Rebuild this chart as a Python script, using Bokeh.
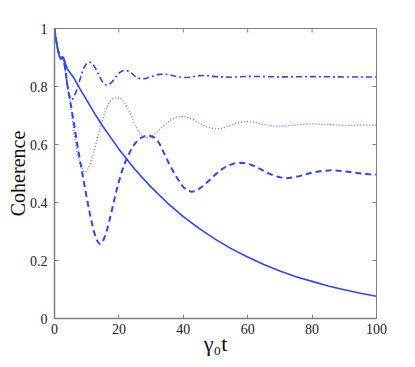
from bokeh.plotting import figure
from bokeh.models import LinearAxis, FixedTicker, Range1d
from bokeh.embed import file_html
from bokeh.resources import INLINE

# ---- data ----
t_solid = [0, 0.5, 1, 1.5, 2, 2.5, 3, 3.5, 4, 5, 6, 8, 10, 12, 15, 20, 25, 30, 35, 40,
           45, 50, 55, 60, 65, 70, 75, 80, 85, 90, 95, 100]
y_solid = [1.0, 0.96, 0.93, 0.905, 0.895, 0.902, 0.895, 0.875, 0.86, 0.845, 0.83, 0.79,
           0.753, 0.715, 0.663, 0.584, 0.514, 0.453, 0.399, 0.351, 0.310, 0.273, 0.240,
           0.212, 0.186, 0.164, 0.144, 0.128, 0.112, 0.099, 0.087, 0.077]

t_dashdot = [0, 0.5, 1, 1.5, 2, 2.5, 3, 3.5, 4, 4.5, 5, 5.5, 6, 7, 8, 9, 10, 11, 12, 13,
             14, 15, 16, 17, 18, 19, 20, 21, 22, 23, 24, 25, 26, 27, 28, 30, 32, 34, 36,
             38, 40, 42, 44, 46, 48, 50, 55, 60, 65, 70, 80, 90, 100]
y_dashdot = [1.0, 0.96, 0.93, 0.905, 0.895, 0.902, 0.885, 0.845, 0.805, 0.772, 0.755,
             0.755, 0.763, 0.79, 0.828, 0.862, 0.88, 0.884, 0.876, 0.857, 0.833, 0.814,
             0.805, 0.807, 0.818, 0.833, 0.846, 0.854, 0.856, 0.853, 0.845, 0.836, 0.829,
             0.826, 0.827, 0.834, 0.841, 0.843, 0.84, 0.834, 0.831, 0.832, 0.836, 0.838,
             0.837, 0.834, 0.832, 0.835, 0.834, 0.833, 0.834, 0.833, 0.833]

t_dotted = [0, 0.5, 1, 1.5, 2, 2.5, 3, 3.5, 4, 4.5, 5, 5.5, 6, 6.5, 7, 8, 9, 9.5, 10, 11,
            12, 13, 14, 15, 16, 17, 18, 19, 20, 21, 22, 23, 24, 25, 26, 27, 28, 29, 30,
            32, 34, 36, 38, 40, 42, 44, 46, 48, 50, 52, 54, 56, 58, 60, 62, 64, 66, 68,
            70, 73, 76, 80, 84, 88, 92, 96, 100]
y_dotted = [1.0, 0.96, 0.93, 0.905, 0.895, 0.902, 0.885, 0.845, 0.805, 0.77, 0.735, 0.69,
            0.645, 0.605, 0.572, 0.53, 0.508, 0.505, 0.508, 0.53, 0.565, 0.607, 0.65,
            0.69, 0.722, 0.745, 0.757, 0.761, 0.761, 0.754, 0.74, 0.72, 0.695, 0.668,
            0.647, 0.633, 0.626, 0.624, 0.627, 0.643, 0.665, 0.684, 0.695, 0.697, 0.692,
            0.68, 0.667, 0.658, 0.654, 0.656, 0.663, 0.671, 0.677, 0.679, 0.677, 0.672,
            0.667, 0.664, 0.663, 0.665, 0.669, 0.671, 0.67, 0.667, 0.666, 0.667, 0.667]

t_dashed = [0, 0.5, 1, 1.5, 2, 2.5, 3, 3.5, 4, 4.5, 5, 6, 7, 8, 9, 10, 11, 12, 13, 14, 15,
            16, 17, 18, 19, 20, 21, 22, 23, 24, 25, 26, 27, 28, 29.5, 31, 32, 33, 34, 35,
            36, 37, 38, 39, 40, 41, 42.5, 44, 46, 48, 50, 52, 54, 56, 58, 60, 62, 64, 66,
            68, 70, 72, 74, 76, 78, 80, 83, 86, 89, 92, 95, 98, 100]
y_dashed = [1.0, 0.96, 0.93, 0.905, 0.895, 0.902, 0.885, 0.845, 0.805, 0.772, 0.742,
            0.675, 0.605, 0.54, 0.478, 0.418, 0.36, 0.31, 0.272, 0.257, 0.266, 0.293,
            0.335, 0.382, 0.43, 0.472, 0.51, 0.54, 0.565, 0.587, 0.603, 0.615, 0.624,
            0.629, 0.631, 0.624, 0.614, 0.595, 0.57, 0.547, 0.525, 0.505, 0.486, 0.468,
            0.453, 0.443, 0.437, 0.44, 0.456, 0.476, 0.497, 0.515, 0.528, 0.535, 0.537,
            0.534, 0.526, 0.515, 0.503, 0.493, 0.487, 0.484, 0.486, 0.491, 0.497, 0.503,
            0.509, 0.511, 0.509, 0.505, 0.5, 0.497, 0.496]

x_ticks = [0, 20, 40, 60, 80, 100]
x_tick_labels = ["0", "20", "40", "60", "80", "100"]
y_ticks = [0, 0.2, 0.4, 0.6, 0.8, 1]
y_tick_labels = ["0", "0.2", "0.4", "0.6", "0.8", "1"]
x_label = "γ₀t"
y_label = "Coherence"

# ---- styling ----
BLUE = "#2a46ff"
AXIS = "#808080"
FONT = "Liberation Serif"

p = figure(width=399, height=358, output_backend="svg", toolbar_location=None,
           x_range=Range1d(0, 100), y_range=Range1d(0, 1),
           min_border_left=54, min_border_right=23, min_border_top=28, min_border_bottom=33,
           x_axis_location=None, y_axis_location=None)
p.background_fill_color = "white"
p.border_fill_color = "white"
p.grid.visible = False
p.outline_line_color = AXIS
p.outline_line_width = 1


def style_axis(ax, ticks, labels):
    ax.ticker = FixedTicker(ticks=ticks)
    ax.major_label_overrides = {k: v for k, v in zip(ticks, labels)}
    ax.axis_line_color = AXIS
    ax.axis_line_width = 1.5
    ax.major_tick_line_color = AXIS
    ax.major_tick_in = 4
    ax.major_tick_out = 0
    ax.minor_tick_line_color = None
    ax.major_label_text_font = FONT
    ax.major_label_text_font_size = "14px"
    ax.major_label_text_color = "#222222"
    ax.axis_label_text_font = FONT
    ax.axis_label_text_font_style = "normal"
    ax.axis_label_text_color = "#111111"


xb = LinearAxis(axis_label=x_label)
style_axis(xb, x_ticks, x_tick_labels)
xb.major_label_standoff = 5
xb.axis_label_text_font_size = "22px"
xb.axis_label_standoff = -6
p.add_layout(xb, "below")

yl = LinearAxis(axis_label=y_label)
style_axis(yl, y_ticks, y_tick_labels)
yl.major_label_standoff = 7
yl.axis_label_text_font_size = "20px"
yl.axis_label_standoff = -2
p.add_layout(yl, "left")

# inward ticks on the top and right edges (the half outside the frame is clipped)
p.scatter(x_ticks, [1] * len(x_ticks), marker="dash", size=8, angle=1.5708,
          line_color=AXIS, line_width=1)
p.scatter([100] * len(y_ticks), y_ticks, marker="dash", size=8,
          line_color=AXIS, line_width=1)

# ---- curves ----
p.line(t_solid, y_solid, line_color=BLUE, line_width=1.6)
p.line(t_dashed, y_dashed, line_color=BLUE, line_width=2, line_dash="6 4")
p.line(t_dotted, y_dotted, line_color=BLUE, line_width=1.2, line_dash="1 2", line_alpha=0.8)
p.line(t_dashdot, y_dashdot, line_color=BLUE, line_width=1.6, line_dash="6 3 2 3")

open("out.html", "w").write(file_html(p, INLINE))
